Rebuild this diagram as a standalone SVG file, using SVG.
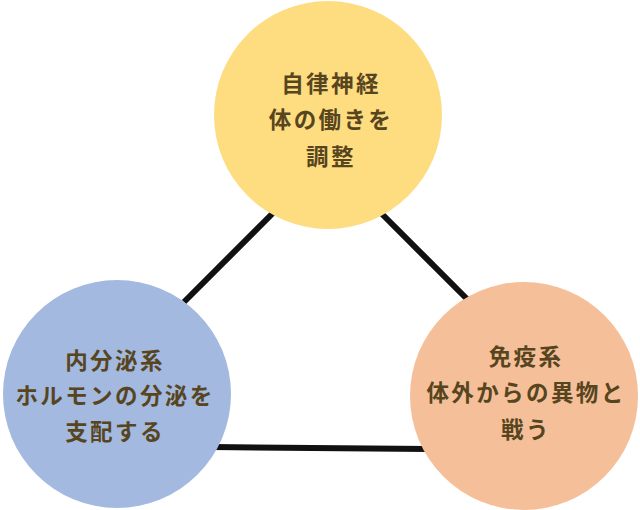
<svg xmlns="http://www.w3.org/2000/svg" width="640" height="510" viewBox="0 0 640 510">
<style>
.t{font-family:"Noto Sans CJK JP","Noto Sans CJK SC",sans-serif;font-weight:bold;font-size:22.5px;fill:#574520;text-anchor:middle;letter-spacing:2.4px}
.c{stroke:#111;stroke-width:6;fill:none}
</style>
<rect width="640" height="510" fill="#fff"/>
<g id="connectors">
<line class="c" x1="276" y1="210" x2="184" y2="302"/>
<line class="c" x1="380" y1="212" x2="468" y2="300"/>
<line class="c" x1="212" y1="447" x2="428" y2="449"/>
</g>
<g id="autonomic">
<circle cx="328" cy="115" r="114" fill="#fedc80"/>
<text class="t" x="331" y="92">自律神経</text>
<text class="t" x="331" y="128">体の働きを</text>
<text class="t" x="331" y="165">調整</text>
</g>
<g id="endocrine">
<circle cx="117" cy="394" r="114" fill="#a3b9e0"/>
<text class="t" x="115" y="369">内分泌系</text>
<text class="t" x="115" y="404">ホルモンの分泌を</text>
<text class="t" x="115" y="440">支配する</text>
</g>
<g id="immune">
<circle cx="524" cy="396" r="114" fill="#f5bf99"/>
<text class="t" x="526" y="365">免疫系</text>
<text class="t" x="526" y="401">体外からの異物と</text>
<text class="t" x="526" y="438">戦う</text>
</g>
</svg>
